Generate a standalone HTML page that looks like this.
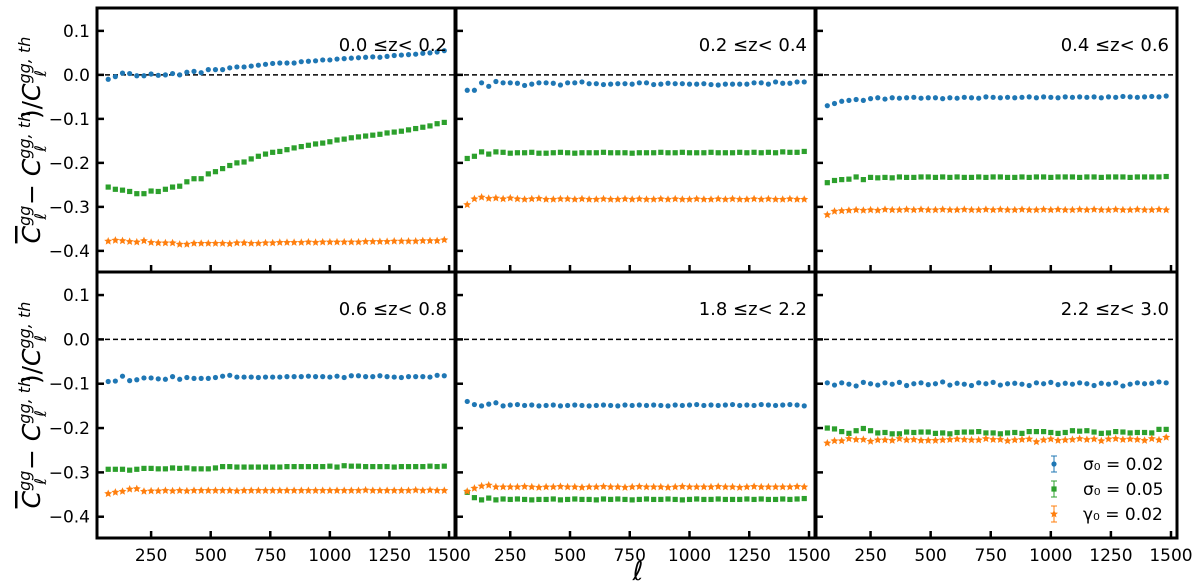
<!DOCTYPE html>
<html><head><meta charset="utf-8"><style>
body{margin:0;background:#fff;width:1200px;height:586px;overflow:hidden;font-family:"DejaVu Sans","Liberation Sans",sans-serif}
svg{display:block}
</style></head><body>
<svg id="chart" width="1200" height="586" xmlns="http://www.w3.org/2000/svg"></svg>
<script>
const ells=[70,100,130,160,190,220,250,280,310,340,370,400,430,460,490,520,550,580,610,640,670,700,730,760,790,820,850,880,910,940,970,1000,1030,1060,1090,1120,1150,1180,1210,1240,1270,1300,1330,1360,1390,1420,1450,1480];
const panelLabels=["0.0  \u2264z<  0.2","0.2  \u2264z<  0.4","0.4  \u2264z<  0.6","0.6  \u2264z<  0.8","1.8  \u2264z<  2.2","2.2  \u2264z<  3.0"];
const yTicks=[0.1,0.0,-0.1,-0.2,-0.3,-0.4];
const yTickLabels=["0.1","0.0","\u22120.1","\u22120.2","\u22120.3","\u22120.4"];
const xTicks=[250,500,750,1000,1250,1500];
const xTickLabels=["250","500","750","1000","1250","1500"];
const blue=[
[-0.010,-0.004,0.004,0.003,-0.002,-0.002,0.002,-0.001,0.000,0.003,0.000,0.006,0.008,0.005,0.012,0.012,0.012,0.016,0.018,0.018,0.020,0.022,0.024,0.026,0.027,0.027,0.027,0.030,0.031,0.032,0.034,0.034,0.036,0.037,0.038,0.039,0.040,0.041,0.040,0.042,0.044,0.045,0.046,0.047,0.049,0.050,0.052,0.055],
[-0.035,-0.035,-0.018,-0.026,-0.015,-0.018,-0.018,-0.019,-0.024,-0.021,-0.018,-0.018,-0.019,-0.023,-0.018,-0.018,-0.016,-0.020,-0.020,-0.022,-0.021,-0.020,-0.020,-0.021,-0.018,-0.018,-0.022,-0.021,-0.019,-0.020,-0.020,-0.021,-0.021,-0.020,-0.022,-0.023,-0.021,-0.021,-0.021,-0.021,-0.018,-0.018,-0.021,-0.016,-0.019,-0.019,-0.016,-0.016],
[-0.070,-0.065,-0.060,-0.058,-0.056,-0.058,-0.054,-0.052,-0.055,-0.052,-0.053,-0.052,-0.051,-0.053,-0.052,-0.052,-0.054,-0.052,-0.053,-0.051,-0.052,-0.053,-0.050,-0.051,-0.052,-0.051,-0.052,-0.051,-0.050,-0.052,-0.050,-0.051,-0.052,-0.050,-0.051,-0.050,-0.051,-0.050,-0.052,-0.050,-0.051,-0.049,-0.050,-0.051,-0.050,-0.049,-0.050,-0.048],
[-0.095,-0.094,-0.083,-0.093,-0.091,-0.087,-0.087,-0.089,-0.090,-0.084,-0.090,-0.086,-0.088,-0.088,-0.088,-0.086,-0.083,-0.081,-0.085,-0.085,-0.085,-0.086,-0.085,-0.085,-0.085,-0.084,-0.084,-0.084,-0.083,-0.084,-0.084,-0.085,-0.083,-0.086,-0.082,-0.082,-0.084,-0.084,-0.082,-0.084,-0.085,-0.086,-0.084,-0.084,-0.084,-0.085,-0.081,-0.082],
[-0.140,-0.147,-0.150,-0.146,-0.143,-0.150,-0.148,-0.147,-0.149,-0.148,-0.150,-0.149,-0.148,-0.150,-0.149,-0.148,-0.149,-0.150,-0.149,-0.148,-0.149,-0.150,-0.148,-0.149,-0.148,-0.149,-0.148,-0.149,-0.150,-0.148,-0.149,-0.148,-0.147,-0.149,-0.148,-0.149,-0.148,-0.147,-0.149,-0.148,-0.149,-0.147,-0.148,-0.149,-0.148,-0.147,-0.148,-0.150],
[-0.098,-0.103,-0.098,-0.101,-0.105,-0.097,-0.100,-0.103,-0.098,-0.101,-0.097,-0.104,-0.100,-0.098,-0.102,-0.100,-0.096,-0.103,-0.099,-0.101,-0.104,-0.098,-0.100,-0.097,-0.103,-0.100,-0.099,-0.101,-0.104,-0.098,-0.100,-0.097,-0.102,-0.099,-0.101,-0.098,-0.100,-0.104,-0.099,-0.101,-0.098,-0.105,-0.101,-0.098,-0.100,-0.099,-0.096,-0.098]];
const green=[
[-0.255,-0.260,-0.262,-0.265,-0.270,-0.270,-0.264,-0.265,-0.260,-0.255,-0.253,-0.243,-0.236,-0.236,-0.225,-0.220,-0.213,-0.206,-0.200,-0.198,-0.191,-0.185,-0.180,-0.176,-0.174,-0.170,-0.166,-0.163,-0.160,-0.157,-0.155,-0.152,-0.148,-0.146,-0.143,-0.141,-0.139,-0.137,-0.135,-0.132,-0.130,-0.128,-0.125,-0.122,-0.119,-0.116,-0.111,-0.108],
[-0.190,-0.185,-0.175,-0.180,-0.175,-0.176,-0.178,-0.177,-0.177,-0.176,-0.178,-0.178,-0.177,-0.176,-0.177,-0.178,-0.177,-0.177,-0.177,-0.176,-0.177,-0.177,-0.177,-0.178,-0.177,-0.177,-0.177,-0.176,-0.177,-0.177,-0.176,-0.177,-0.177,-0.177,-0.176,-0.177,-0.177,-0.177,-0.176,-0.177,-0.176,-0.177,-0.176,-0.177,-0.175,-0.176,-0.176,-0.174],
[-0.245,-0.240,-0.238,-0.237,-0.232,-0.238,-0.233,-0.234,-0.233,-0.234,-0.232,-0.233,-0.233,-0.232,-0.232,-0.233,-0.232,-0.233,-0.232,-0.233,-0.233,-0.232,-0.233,-0.232,-0.232,-0.233,-0.233,-0.232,-0.233,-0.232,-0.232,-0.233,-0.232,-0.232,-0.232,-0.233,-0.232,-0.232,-0.233,-0.232,-0.232,-0.232,-0.233,-0.232,-0.232,-0.232,-0.232,-0.231],
[-0.293,-0.293,-0.293,-0.295,-0.293,-0.291,-0.291,-0.292,-0.292,-0.290,-0.291,-0.290,-0.292,-0.292,-0.292,-0.290,-0.287,-0.287,-0.288,-0.288,-0.288,-0.288,-0.288,-0.288,-0.288,-0.287,-0.287,-0.287,-0.287,-0.287,-0.287,-0.286,-0.288,-0.285,-0.286,-0.286,-0.287,-0.287,-0.287,-0.287,-0.288,-0.287,-0.287,-0.287,-0.287,-0.286,-0.287,-0.286],
[-0.345,-0.357,-0.362,-0.358,-0.362,-0.360,-0.361,-0.360,-0.361,-0.362,-0.361,-0.361,-0.360,-0.362,-0.361,-0.360,-0.361,-0.361,-0.362,-0.360,-0.361,-0.360,-0.361,-0.362,-0.361,-0.360,-0.361,-0.361,-0.360,-0.361,-0.362,-0.361,-0.360,-0.361,-0.361,-0.360,-0.361,-0.361,-0.361,-0.360,-0.361,-0.360,-0.361,-0.361,-0.360,-0.361,-0.360,-0.359],
[-0.200,-0.202,-0.208,-0.212,-0.206,-0.201,-0.206,-0.211,-0.210,-0.213,-0.213,-0.209,-0.210,-0.209,-0.209,-0.212,-0.211,-0.213,-0.210,-0.209,-0.209,-0.208,-0.211,-0.211,-0.213,-0.211,-0.210,-0.212,-0.208,-0.208,-0.208,-0.210,-0.212,-0.210,-0.206,-0.207,-0.206,-0.209,-0.212,-0.211,-0.208,-0.209,-0.211,-0.210,-0.210,-0.211,-0.203,-0.203]];
const orange=[
[-0.378,-0.376,-0.377,-0.379,-0.380,-0.377,-0.381,-0.382,-0.382,-0.382,-0.385,-0.385,-0.383,-0.383,-0.383,-0.383,-0.383,-0.384,-0.382,-0.382,-0.383,-0.383,-0.382,-0.382,-0.381,-0.381,-0.381,-0.381,-0.380,-0.381,-0.380,-0.380,-0.380,-0.380,-0.380,-0.380,-0.379,-0.379,-0.379,-0.379,-0.378,-0.378,-0.378,-0.378,-0.377,-0.377,-0.377,-0.375],
[-0.295,-0.282,-0.278,-0.281,-0.280,-0.282,-0.280,-0.282,-0.283,-0.282,-0.281,-0.283,-0.283,-0.282,-0.282,-0.283,-0.282,-0.283,-0.283,-0.282,-0.283,-0.283,-0.282,-0.283,-0.282,-0.283,-0.283,-0.282,-0.283,-0.282,-0.283,-0.283,-0.282,-0.283,-0.283,-0.282,-0.283,-0.282,-0.283,-0.283,-0.282,-0.283,-0.282,-0.283,-0.283,-0.282,-0.283,-0.283],
[-0.318,-0.310,-0.309,-0.308,-0.307,-0.308,-0.307,-0.308,-0.306,-0.307,-0.307,-0.306,-0.307,-0.306,-0.307,-0.307,-0.306,-0.307,-0.307,-0.306,-0.307,-0.307,-0.306,-0.307,-0.306,-0.307,-0.307,-0.306,-0.307,-0.307,-0.306,-0.307,-0.306,-0.307,-0.307,-0.306,-0.307,-0.306,-0.307,-0.307,-0.306,-0.307,-0.307,-0.306,-0.307,-0.307,-0.306,-0.307],
[-0.348,-0.345,-0.343,-0.338,-0.337,-0.343,-0.342,-0.342,-0.341,-0.342,-0.341,-0.342,-0.341,-0.341,-0.341,-0.341,-0.341,-0.341,-0.342,-0.341,-0.341,-0.341,-0.341,-0.341,-0.341,-0.341,-0.341,-0.341,-0.341,-0.341,-0.341,-0.341,-0.341,-0.341,-0.341,-0.341,-0.340,-0.341,-0.341,-0.341,-0.341,-0.341,-0.341,-0.340,-0.341,-0.340,-0.341,-0.341],
[-0.343,-0.336,-0.331,-0.329,-0.333,-0.333,-0.333,-0.333,-0.332,-0.333,-0.334,-0.333,-0.333,-0.332,-0.333,-0.333,-0.334,-0.333,-0.333,-0.332,-0.333,-0.333,-0.334,-0.333,-0.332,-0.333,-0.333,-0.333,-0.334,-0.333,-0.332,-0.333,-0.333,-0.333,-0.333,-0.332,-0.333,-0.333,-0.334,-0.333,-0.332,-0.333,-0.333,-0.333,-0.333,-0.333,-0.332,-0.333],
[-0.234,-0.229,-0.229,-0.224,-0.226,-0.226,-0.230,-0.227,-0.227,-0.228,-0.224,-0.227,-0.226,-0.228,-0.228,-0.228,-0.227,-0.226,-0.225,-0.226,-0.227,-0.227,-0.224,-0.226,-0.226,-0.229,-0.227,-0.226,-0.225,-0.231,-0.227,-0.225,-0.228,-0.227,-0.226,-0.224,-0.226,-0.225,-0.229,-0.225,-0.224,-0.226,-0.225,-0.226,-0.228,-0.224,-0.227,-0.221]];
const errs=[0.003,0.003,0.003];
</script>
<script>
const NS="http://www.w3.org/2000/svg";
const svg=document.getElementById('chart');
function mk(tag,attrs,parent){const e=document.createElementNS(NS,tag);for(const k in attrs)e.setAttribute(k,attrs[k]);(parent||svg).appendChild(e);return e;}
const colX=[97,456,816],colW=[358,359,361];
const rowY=[8,272],rowH=[264,266];
const XMIN=23,XMAX=1525,YMAX=0.152,YMIN=-0.448;
const colors=["#1f77b4","#2ca02c","#ff7f0e"];
function starPts(cx,cy,r){let p=[];for(let i=0;i<10;i++){const a=-Math.PI/2+i*Math.PI/5;const rr=i%2?r*0.45:r;p.push((cx+rr*Math.cos(a)).toFixed(1)+","+(cy+rr*Math.sin(a)).toFixed(1));}return p.join(" ");}
function marker(g,s,x,y,c){
  if(s===0){const m=mk('circle',{cx:x,cy:y,r:2.6,fill:c},g);}
  else if(s===1){const m=mk('rect',{x:x-2.6,y:y-2.6,width:5.2,height:5.2,fill:c},g);}
  else {const m=mk('polygon',{points:starPts(x,y,4.2),fill:c},g);}
}
const allSeries=[blue,green,orange];
const seriesNames=["sigma0-002","sigma0-005","gamma0-002"];
for(let p=0;p<6;p++){
  const r=Math.floor(p/3),c=p%3;
  const L=colX[c],T=rowY[r],W=colW[c],H=rowH[r];
  const xs=v=>L+(v-XMIN)/(XMAX-XMIN)*W;
  const ys=v=>T+(YMAX-v)/(YMAX-YMIN)*H;
  const g=mk('g',{});
  
  
  const z=mk('line',{x1:L,x2:L+W,y1:ys(0),y2:ys(0),stroke:'#000','stroke-width':1.5,'stroke-dasharray':'5,3'},g);
  
  
  yTicks.forEach((t,i)=>{
    const y=ys(t);
    const tk=mk('line',{x1:L,x2:L+7,y1:y,y2:y,stroke:'#000','stroke-width':2.5},g);
    
    
    if(c===0){const tl=mk('text',{x:L-7,y:y+6,'text-anchor':'end','font-size':17,fill:'#000'},g);tl.textContent=yTickLabels[i];
      
      }
  });
  xTicks.forEach((t,i)=>{
    const x=xs(t);
    const tk=mk('line',{x1:x,x2:x,y1:T+H,y2:T+H-7,stroke:'#000','stroke-width':2.5},g);
    
    
    if(r===1){const tl=mk('text',{x:x,y:T+H+23,'text-anchor':'middle','font-size':17,fill:'#000'},g);tl.textContent=xTickLabels[i];
      
      }
  });
  allSeries.forEach((S,s)=>{
    const sg=mk('g',{},g);
    
    
    S[p].forEach((v,i)=>{
      const x=xs(ells[i]),y=ys(v),e=errs[s]/(YMAX-YMIN)*H;
      mk('line',{x1:x,x2:x,y1:y-e,y2:y+e,stroke:colors[s],'stroke-width':0.8,opacity:0.7},sg);
      mk('line',{x1:x-2,x2:x+2,y1:y-e,y2:y-e,stroke:colors[s],'stroke-width':0.8,opacity:0.7},sg);
      mk('line',{x1:x-2,x2:x+2,y1:y+e,y2:y+e,stroke:colors[s],'stroke-width':0.8,opacity:0.7},sg);
      marker(sg,s,x,y,colors[s]);
    });
  });
  const lab=mk('text',{x:L+W-8,y:T+43,'text-anchor':'end','font-size':18,fill:'#000'},g);
  lab.textContent=panelLabels[p];
  
  
  const fr=mk('rect',{x:L,y:T,width:W,height:H,fill:'none',stroke:'#000','stroke-width':3},g);
  
  
}
[140,405].forEach(cy=>{
  const t=mk('text',{x:0,y:0,transform:`translate(40,${cy}) rotate(-90)`,'text-anchor':'middle','font-size':25,fill:'#000','font-style':'italic'});
  t.innerHTML='<tspan text-decoration="overline">C</tspan><tspan dy="-10" font-size="16">gg</tspan><tspan dx="-14" dy="16" font-size="16">\u2113</tspan><tspan dy="-6" font-style="normal"> \u2212 </tspan><tspan>C</tspan><tspan dy="-10" font-size="16">gg, th</tspan><tspan dx="-40" dy="16" font-size="16">\u2113</tspan><tspan dx="26" dy="-6" font-style="normal">)/</tspan><tspan>C</tspan><tspan dy="-10" font-size="16">gg, th</tspan><tspan dx="-40" dy="16" font-size="16">\u2113</tspan>';
  
  
});
const xt=mk('text',{x:638,y:580,'text-anchor':'middle','font-size':26,'font-style':'italic',fill:'#000'});
xt.textContent='\u2113';


const legendLabels=["\u03c3\u2080 = 0.02","\u03c3\u2080 = 0.05","\u03b3\u2080 = 0.02"];
const lg=mk('g',{});


legendLabels.forEach((t,s)=>{
  const y=464+s*25,x=1054;
  const eg=mk('g',{},lg);
  
  
  mk('line',{x1:x,x2:x,y1:y-8,y2:y+8,stroke:colors[s],'stroke-width':1},eg);
  mk('line',{x1:x-3,x2:x+3,y1:y-8,y2:y-8,stroke:colors[s],'stroke-width':1},eg);
  mk('line',{x1:x-3,x2:x+3,y1:y+8,y2:y+8,stroke:colors[s],'stroke-width':1},eg);
  marker(eg,s,x,y,colors[s]);
  const tx=mk('text',{x:1083,y:y+6,'font-size':17,fill:'#000'},eg);
  tx.textContent=t;
});
</script>
</body></html>
